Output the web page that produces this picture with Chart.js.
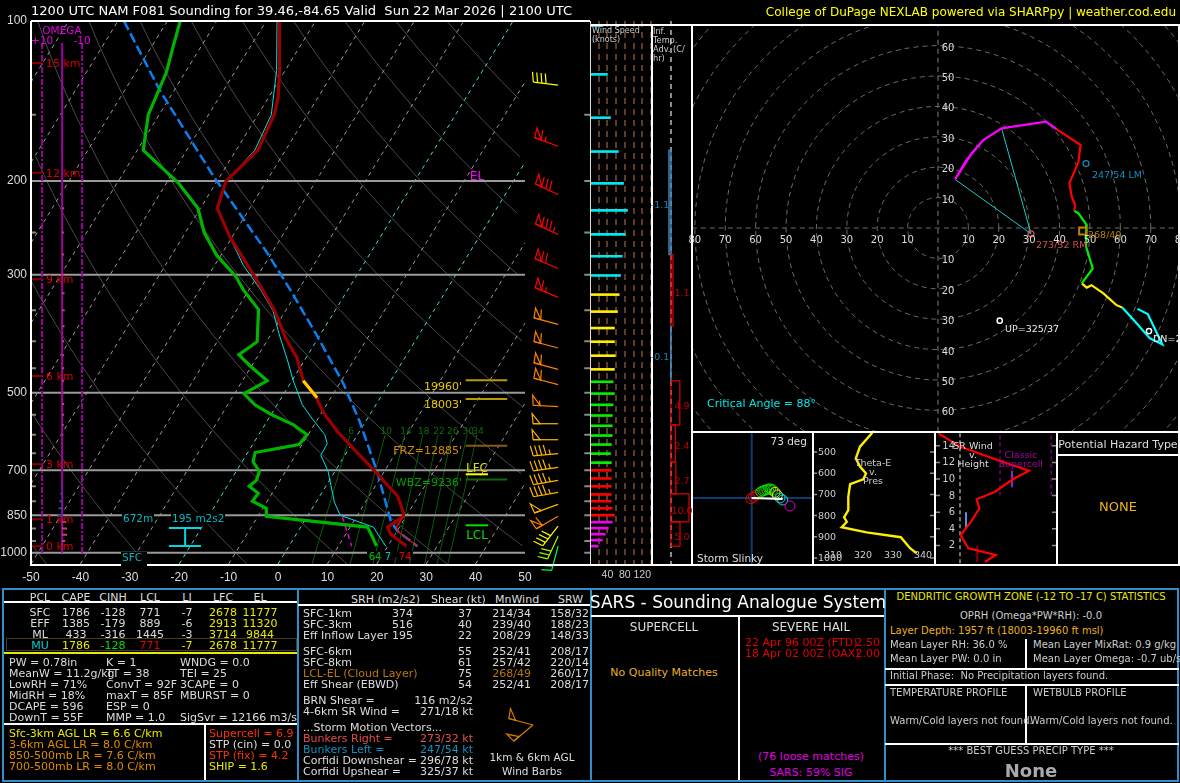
<!DOCTYPE html>
<html>
<head>
<meta charset="utf-8">
<title>NAM F081 Sounding</title>
<script src="https://cdn.jsdelivr.net/npm/chart.js@4"></script>
<style>
  html, body { margin: 0; background: #000; }
  #page { position: relative; width: 1180px; height: 783px; overflow: hidden; background: #000; font-family: "DejaVu Sans", sans-serif; }
  canvas { position: absolute; }
  .txt { position: absolute; white-space: pre; line-height: 1; }
  .rule { position: absolute; }
</style>
</head>
<body>
<div id="page"></div>
<script>
// profile traces, pressure in mb and temperature in C
const tempP = [100,125,139,150,175,200,225,255,300,320,352,394,430,475,511,520,550,594,703,783,840,854,895,923,972];
const tempC = [-67.4,-60.9,-58.1,-56.7,-55.6,-58.2,-56.6,-50.4,-41.0,-37.3,-32.0,-26.7,-21.8,-17.7,-12.8,-12.1,-9.1,-4.2,8.1,15.8,18.95,19.45,17.6,19.1,23.8];
const dgzP = [475,511];
const dgzC = [-17.7,-12.8];
const dewP = [100,112,125,150,175,202,225,250,276,302,320,349,401,424,443,475,502,527,548,574,600,626,648,674,703,731,750,773,800,825,854,895,931,972];
const dewC = [-87.4,-85.6,-83.8,-82.2,-78.8,-67.5,-60.5,-56.2,-50.8,-44.4,-41.2,-35.6,-31.9,-34,-30.7,-25,-28.1,-24.5,-20.3,-14.3,-10.2,-10.6,-18.5,-17.8,-15.3,-14.8,-15.5,-12.8,-13,-9.3,-8.3,13.5,15.6,17.7];
const wetP = [100,124,150,175,200,225,252,288,320,351,388,436,473,527,562,600,624,655,703,803,850,895,972];
const wetC = [-67.8,-61.7,-57.3,-56.2,-58.2,-56.4,-51.1,-44.2,-37.7,-32.5,-28.4,-23.3,-19.9,-14.9,-10.9,-6.6,-5,-4.9,-1.4,3.7,6.5,14.7,19.6];
const parcelP = [100,135,195,273,320,388,480,569,706,872,911,972];
const parcelC = [-98.8,-82.9,-61.6,-40.9,-31.7,-20.9,-9.3,-1,8.7,17.5,20.1,26];
const virtP = [972,911,895,854];
const virtC = [26,20.1,19.4,19.45];
const downP = [857,972];
const downC = [7.2,12.7];

// mixing ratio lines, temperature at 1050 mb and at 600 mb
const mixLabels = [6,10,14,18,22,26,30,34];
const mixBaseC = [6.9,14.6,19.2,23.6,26.6,29.7,32.2,34.4];
const mixTopC = [-1.5,5.6,9.6,13.2,16.3,19.1,22.2,24.2];

// axes
const pressureTicks = [100,200,300,500,700,850,1000];
const pressureLines = [200,300,500,700,850,1000];
const minorPressure = [150,250,350,400,450,550,600,650,750,800,900,950];
const tempTicks = [-50,-40,-30,-20,-10,0,10,20,30,40,50];
const heightLabels = ['15 km','12 km','9 km','6 km','3 km','1 km','0 km'];
const heightP = [120,193,306,465,682,865,972];

// omega
const omegaP = [125,150,175,225,250,275,300,325,350,375,400,425,450,475,500,525,550,575,600,625,650,675,725,750,775,800,825,850,875,900,925,950];
const omegaVal = [0.3,0.3,0.3,-1,-1,-1,-1,-1.2,-1.3,-1.2,-1,-1,-1,-1,-1,-1,-1,-0.8,-0.6,-0.4,-0.3,-0.2,0.3,0.5,1,1.4,1.8,2,-2,-2.5,-2.5,-1.5];

// wind barbs
const barbP = [132,172,212,252,292,331,372,412,452,483,531,572,613,651,691,731,770,811,854,891,931,972];
const barbDir = [277,290,295,295,293,293,285,285,285,285,273,270,270,265,262,260,260,250,240,218,205,195];
const barbSpd = [40,65,80,85,70,65,60,60,60,60,55,50,50,45,45,45,45,50,60,40,30,20];

// wind speed bars
const speedP = [102,126,152,176,202,227,252,277,301,327,352,378,401,426,452,477,502,527,552,577,602,626,651,677,700,725,750,777,800,825,850,876,899,923,947,972];
const speedKt = [30,40,47,65,77,86,81,74,70,67,63,56,56,58,56,53,56,53,51,51,51,49,47,49,49,49,49,49,49,51,56,51,42,35,28,19];
const speedTicks = [20,40,60,80,100,120,140];

// inferred temperature advection
const advBounds = [175,275,375,475,575,675,775,875,972];
const advVal = [-1.1,1.1,-0.1,4.9,2.4,2.7,10.0,5.0];

// hodograph, u and v in knots
const hodoMagU = [14.9,9.4,5.6,11.1,14.9,20.9,35.5,39.0];
const hodoMagV = [28.9,22.4,16.0,24.6,28.9,32.8,35.0,32.5];
const hodoRedU = [39.0,46.9,46.2,45.3,43.2,44.0,45.1,44.8];
const hodoRedV = [32.5,27.3,21.8,19.6,14.7,10.3,7.6,5.7];
const hodoGreenU = [44.8,46.2,48.9,48.7,50.9,47.3];
const hodoGreenV = [5.7,4.8,1.0,-6.1,-13.3,-18.2];
const hodoYellowU = [47.3,48.9,50.5,54.4,58.6,60.7];
const hodoYellowV = [-18.2,-19.6,-18.8,-21.5,-25.3,-26.2];
const hodoCyanU = [60.7,65.4,69.7,73.8,69.0,65.6];
const hodoCyanV = [-26.2,-31.4,-36.3,-38.3,-28.3,-26.6];
const rmUV = [30.6,-1.9];
const lmUV = [48.7,21.2];
const mwUV = [47.6,-1.0];
const upUV = [20.3,-30.5];
const dnUV = [69.4,-33.9];
const inflowBottomUV = [5.6,16.0];
const inflowTopUV = [20.9,32.8];
const hodoRings = [10,20,30,40,50,60,70,80,90,100,110,120];

// storm slinky
const slinkyX = [-0.7,1.7,4,6.7,9,11,13,15,17,19,21,23.3,25.7,28.3,31,38.3];
const slinkyY = [-0.7,0.7,2.7,4.3,6,7,7.7,8.3,9,9,8,5.7,3,0,-2,-8];
const tiltEnd = [31,-1];

// theta-e
const thetaP = [409,475,530,569,601,629,652,711,774,808,829,855,879,902,954,978];
const thetaK = [323.1,319,317.6,319,321,320.1,315.7,315.1,315.1,313.7,314.6,312.9,321.2,332.6,335.7,337.9];
const thetaPTicks = [500,600,700,800,900,1000];
const thetaKTicks = [310,320,330,340];

// storm relative wind v. height
const srHeight = [0,0.84,1.65,3.25,4.06,4.98,6.47,7.55,8.47,9.88,11,12.08,13.9,15.5];
const srWind = [30.6,37.3,20.2,15.4,18.75,22.3,27.1,25.4,36.9,47.3,58.1,41.4,15,1.5];
const srTicks = [2,4,6,8,10,12,14];

// parcel table
const pclNames = ['SFC','EFF','ML','MU'];
const pclCape = [1786,1385,433,1786];
const pclCinh = [-128,-179,-316,-128];
const pclLcl = [771,889,1445,771];
const pclLi = [-7,-6,-3,-7];
const pclLfc = [2678,2913,3714,2678];
const pclEl = [11777,11320,9844,11777];

// kinematic table
const kinNames = ['SFC-1km','SFC-3km','Eff Inflow Layer','SFC-6km','SFC-8km','LCL-EL (Cloud Layer)','Eff Shear (EBWD)'];
const kinSrh = ['374','516','195','','','',''];
const kinShear = [37,40,22,55,61,75,54];
const kinMean = ['214/34','239/40','208/29','252/41','257/42','268/49','252/41'];
const kinSrw = ['158/32','188/23','148/33','208/17','220/14','260/17','208/17'];

const page = document.getElementById('page');
const SKEW = 66.2;
const skewX = (t, p) => t + SKEW * Math.log10(1050 / p);

function label(x, y, str, color, size, align, extra) {
  const d = document.createElement('div');
  d.className = 'txt';
  d.textContent = str;
  const tx = align === 'c' ? '-50%' : align === 'r' ? '-100%' : '0';
  d.style.cssText = `left:${x}px;top:${y}px;color:${color};font-size:${size}px;transform:translate(${tx},-50%);` + (extra || '');
  page.appendChild(d);
  return d;
}
function rule(x, y, w, h, color) {
  const d = document.createElement('div');
  d.className = 'rule';
  d.style.cssText = `left:${x}px;top:${y}px;width:${w}px;height:${h}px;background:${color || '#fff'};`;
  page.appendChild(d);
}
function line(points, color, width, dash, extra) {
  return Object.assign({ data: points, showLine: true, borderColor: color, backgroundColor: color, borderWidth: width, borderDash: dash || [], pointRadius: 0, tension: 0, spanGaps: false }, extra);
}
function makeChart(left, top, w, h, type, datasets, scales, opts) {
  const c = document.createElement('canvas');
  c.width = w; c.height = h;
  c.style.left = left + 'px'; c.style.top = top + 'px';
  c.style.width = w + 'px'; c.style.height = h + 'px';
  page.appendChild(c);
  return new Chart(c.getContext('2d'), Object.assign({
    type: type,
    data: { datasets: datasets },
    plugins: (opts && opts.plugins) || [],
    options: Object.assign({
      responsive: false, animation: false, devicePixelRatio: 1, events: [],
      layout: { autoPadding: false, padding: (opts && opts.padding) || 0 },
      plugins: { legend: { display: false }, tooltip: { enabled: false } },
      scales: scales
    }, opts && opts.options)
  }));
}
const hidden = (o) => Object.assign({ display: false, grid: { display: false } }, o);

function drawBarb(ctx, x, y, dir, spd, color, len) {
  const rad = dir * Math.PI / 180;
  const ux = Math.sin(rad), uy = -Math.cos(rad);
  const px = -uy, py = ux;
  let tx = x + ux * len, ty = y + uy * len;
  ctx.save();
  ctx.strokeStyle = color;
  ctx.lineWidth = 1.2;
  ctx.beginPath(); ctx.moveTo(x, y); ctx.lineTo(tx, ty); ctx.stroke();
  let left = Math.round(spd / 5) * 5;
  let along = 0;
  while (left >= 50) {
    ctx.beginPath();
    ctx.moveTo(tx, ty);
    ctx.lineTo(tx + px * 10 + ux * 1, ty + py * 10 + uy * 1);
    ctx.lineTo(tx - ux * 7, ty - uy * 7);
    ctx.closePath(); ctx.stroke();
    along += 7; left -= 50;
  }
  while (left > 0) {
    const l = left >= 10 ? 10 : 5;
    const bx = tx - ux * along, by = ty - uy * along;
    ctx.beginPath();
    ctx.moveTo(bx, by);
    ctx.lineTo(bx + px * l + ux * l * 0.2, by + py * l + uy * l * 0.2);
    ctx.stroke();
    along += 4.3; left -= l;
  }
  ctx.restore();
}
function barbColor(spd) {
  if (spd >= 65) return '#ff0000';
  if (spd >= 55) return '#ff8000';
  if (spd >= 45) return '#ffb400';
  if (spd >= 35) return '#ffff00';
  if (spd >= 25) return '#aaff00';
  return '#00ff40';
}

// ---- skew-T ----
const skewSets = [];
// dry adiabats
for (let theta = -50; theta <= 190; theta += 20) {
  const pts = [];
  for (let p = 100; p <= 1050; p += 10) {
    const t = (theta + 273.15) * Math.pow(p / 1000, 0.286) - 273.15;
    const x = skewX(t, p);
    if (x >= -50 && x <= 50) pts.push({ x: x, y: p });
  }
  skewSets.push(line(pts, '#4a4a4a', 1));
}
// isotherms
for (let t = -120; t <= 50; t += 10) {
  const p0 = Math.min(1050, 1050 / Math.pow(10, (-50 - t) / SKEW));
  const p1 = Math.max(100, 1050 / Math.pow(10, (50 - t) / SKEW));
  if (p1 >= p0) continue;
  const special = t === 0 || t === -20;
  skewSets.push(line([{ x: skewX(t, p0), y: p0 }, { x: skewX(t, p1), y: p1 }], special ? '#45d8d8' : '#9a9a9a', 1, [4, 4]));
}
// mixing ratio
mixLabels.forEach((w, i) => {
  skewSets.push(line([{ x: skewX(mixBaseC[i], 1050), y: 1050 }, { x: skewX(mixTopC[i], 600), y: 600 }], '#0a5a0a', 1));
});
// pressure lines
pressureLines.forEach(p => skewSets.push(line([{ x: -50, y: p }, { x: 50, y: p }], '#9a9a9a', 2)));
const tickPts = [];
minorPressure.forEach(p => { tickPts.push({ x: -50, y: p }, { x: -49, y: p }, { x: NaN, y: NaN }); });
[...minorPressure, ...pressureLines].forEach(p => { tickPts.push({ x: 62, y: p }, { x: 64, y: p }, { x: NaN, y: NaN }); });
skewSets.push(line(tickPts, '#8a8a8a', 2));
// omega
const OM0 = -43.7;
skewSets.push(line([{ x: -47.75, y: 110 }, { x: -47.75, y: 1000 }], '#a000a0', 2, [6, 2, 2, 2]));
skewSets.push(line([{ x: -39.65, y: 110 }, { x: -39.65, y: 1000 }], '#a000a0', 2, [6, 2, 2, 2]));
skewSets.push(line([{ x: OM0, y: 110 }, { x: OM0, y: 1000 }], '#a000a0', 2));
const omegaSeg = (keep) => {
  const out = [];
  omegaP.forEach((p, i) => { if (keep(omegaVal[i])) out.push({ x: OM0, y: p }, { x: OM0 - omegaVal[i] * 0.405, y: p }, { x: NaN, y: NaN }); });
  return out;
};
skewSets.push(line(omegaSeg(v => v < 0), '#d04060', 2));
skewSets.push(line(omegaSeg(v => v > 0), '#0060b0', 2));
// height ticks
const hPts = [];
heightP.forEach(p => hPts.push({ x: -50, y: p }, { x: -47.7, y: p }, { x: NaN, y: NaN }));
skewSets.push(line(hPts, '#8a0000', 2));
// level markers
const mark = (p, x1, color) => skewSets.push(line([{ x: 38, y: p }, { x: x1, y: p }], color, 2));
mark(474, 46.4, '#b89a00');
mark(514, 46.4, '#b89a00');
mark(629, 46.4, '#8a5a10');
mark(728, 46.4, '#0a6a0a');
mark(712, 42.5, '#ffff00');
mark(888, 42.5, '#00e000');
// effective inflow bar
skewSets.push(line([{ x: -22.1, y: 898 }, { x: -15.6, y: 898 }, { x: NaN, y: NaN }, { x: -22.1, y: 971 }, { x: -15.6, y: 971 }, { x: NaN, y: NaN }, { x: -18.8, y: 898 }, { x: -18.8, y: 971 }], '#00d8e0', 2));
// traces
const trace = (ps, ts) => ps.map((p, i) => ({ x: skewX(ts[i], p), y: p }));
skewSets.push(line(trace(parcelP, parcelC), '#0a80f0', 2.5, [10, 4]));
skewSets.push(line(trace(downP, downC), '#e000e0', 1.5, [5, 4]));
skewSets.push(line(trace(dewP, dewC), '#00b400', 3.2));
skewSets.push(line(trace(wetP, wetC), '#00e0e0', 1));
skewSets.push(line(trace(tempP, tempC), '#9c0000', 3.2));
skewSets.push(line(trace(virtP, virtC), '#ff0000', 1.2));
skewSets.push(line(trace(dgzP, dgzC), '#ffcc00', 3.2));

const barbPlugin = {
  id: 'barbs',
  afterDatasetsDraw(chart) {
    const ctx = chart.ctx, xs = chart.scales.x, ys = chart.scales.y;
    barbP.forEach((p, i) => {
      drawBarb(ctx, xs.getPixelForValue(56.7), ys.getPixelForValue(p), barbDir[i], barbSpd[i], barbColor(barbSpd[i]), 25);
    });
  }
};
const skewChart = makeChart(0, 0, 600, 585, 'scatter', skewSets.reverse(), {
  x: {
    type: 'linear', min: -50, max: (590 - 278) / 4.94,
    afterBuildTicks: s => { s.ticks = tempTicks.map(v => ({ value: v })); },
    afterFit: s => { s.height = 21; },
    grid: { display: false, drawTicks: false }, border: { display: false },
    ticks: { color: '#ddd', font: { size: 12 }, padding: 6, autoSkip: false, maxRotation: 0, callback: v => String(v) }
  },
  y: {
    type: 'logarithmic', min: 100, max: 1050, reverse: true,
    afterBuildTicks: s => { s.ticks = pressureTicks.map(v => ({ value: v })); },
    afterFit: s => { s.width = 31; },
    grid: { display: false, drawTicks: false }, border: { display: false },
    ticks: { color: '#ddd', font: { size: 12 }, padding: 4, autoSkip: false, callback: v => String(v) }
  }
}, { padding: { top: 21, right: 10 }, plugins: [barbPlugin] });

// ---- wind speed ----
const speedColor = p => p <= 305 ? '#00e8f0' : p <= 455 ? '#ffee00' : p <= 680 ? '#00f000' : p <= 855 ? '#ff0000' : '#f000f0';
makeChart(590, 0, 80, 585, 'bar', [{
  data: speedP.map((p, i) => ({ x: speedKt[i], y: p })),
  backgroundColor: speedP.map(speedColor),
  barThickness: 2
}], {
  x: {
    type: 'linear', min: 0, max: 140,
    afterBuildTicks: s => { s.ticks = speedTicks.map(v => ({ value: v })); },
    afterFit: s => { s.height = 21; },
    grid: { color: '#5e3c28', lineWidth: 2, drawTicks: false },
    border: { display: false, dash: [6, 5] },
    ticks: { color: '#ccc', font: { size: 10.5 }, padding: 5, autoSkip: false, maxRotation: 0, callback: v => (v === 40 || v === 80 || v === 120) ? String(v) : '' }
  },
  y: hidden({ type: 'logarithmic', min: 100, max: 1050, reverse: true })
}, { padding: { top: 21, right: 19 }, options: { indexAxis: 'y' } });

// ---- temperature advection ----
const advSets = [line([{ x: 0, y: 100 }, { x: 0, y: 1050 }], '#8a8a8a', 2, [5, 4])];
advVal.forEach((v, i) => {
  advSets.push(line([{ x: 0, y: advBounds[i] }, { x: v, y: advBounds[i] }, { x: v, y: advBounds[i + 1] }, { x: 0, y: advBounds[i + 1] }, { x: 0, y: advBounds[i] }], v < 0 ? '#4682b4' : '#e00000', v < 0 ? 1.5 : 1.2));
});
const advChart = makeChart(652, 21, 39, 543, 'scatter', advSets.reverse(), {
  x: hidden({ type: 'linear', min: -19 / 1.8, max: 20 / 1.8 }),
  y: hidden({ type: 'logarithmic', min: 100, max: 1050, reverse: true })
});

// ---- hodograph ----
const uvPts = (us, vs) => us.map((u, i) => ({ x: u, y: vs[i] }));
const hodoSets = [];
hodoRings.forEach(r => {
  const pts = [];
  for (let a = 0; a <= 360; a += 4) pts.push({ x: r * Math.cos(a * Math.PI / 180), y: r * Math.sin(a * Math.PI / 180) });
  hodoSets.push(line(pts, '#6a6a6a', 1, [5, 4]));
});
hodoSets.push(line([{ x: -81, y: 0 }, { x: 79, y: 0 }], '#6a6a6a', 1.2, [5, 4]));
hodoSets.push(line([{ x: 0, y: -67 }, { x: 0, y: 67 }], '#6a6a6a', 1.2, [5, 4]));
const pointUV = (uv) => [{ x: uv[0], y: uv[1] }];
hodoSets.push(line([{ x: rmUV[0], y: rmUV[1] }, { x: inflowBottomUV[0], y: inflowBottomUV[1] }], '#20c8c8', 1));
hodoSets.push(line([{ x: rmUV[0], y: rmUV[1] }, { x: inflowTopUV[0], y: inflowTopUV[1] }], '#20c8c8', 1));
hodoSets.push(line(uvPts(hodoCyanU, hodoCyanV), '#00ffff', 2.2));
hodoSets.push(line(uvPts(hodoYellowU, hodoYellowV), '#ffee00', 2.2));
hodoSets.push(line(uvPts(hodoGreenU, hodoGreenV), '#00f000', 2.2));
hodoSets.push(line(uvPts(hodoRedU, hodoRedV), '#ff0000', 2.2));
hodoSets.push(line(uvPts(hodoMagU, hodoMagV), '#ff00ff', 2.2));
const marker = (uv, color, style, r, w) => ({ data: pointUV(uv), showLine: false, pointStyle: style, pointRadius: r, pointBorderColor: color, pointBackgroundColor: 'rgba(0,0,0,0)', pointBorderWidth: w });
hodoSets.push(marker(rmUV, '#d05050', 'circle', 3, 1.2));
hodoSets.push(marker(lmUV, '#1090c0', 'circle', 3, 1.2));
hodoSets.push(marker(mwUV, '#c08000', 'rect', 5, 2));
hodoSets.push(marker(upUV, '#ffffff', 'circle', 2.6, 1.5));
hodoSets.push(marker(dnUV, '#ffffff', 'circle', 2.6, 1.5));
const hodoChart = makeChart(692, 25, 486, 406, 'scatter', hodoSets.reverse(), {
  x: hidden({ type: 'linear', min: -246 / 3.04, max: 240 / 3.04 }),
  y: hidden({ type: 'linear', min: -203 / 3.04, max: 203 / 3.04 })
});

// ---- storm slinky ----
const slinkyColors = slinkyX.map((_, i) => i < 4 ? '#e00000' : i < 11 ? '#00e000' : i < 13 ? '#e8e000' : i < 15 ? '#00e0e0' : '#d000d0');
makeChart(693, 432, 119, 133, 'scatter', [
  line([{ x: 0, y: 0 }, { x: tiltEnd[0], y: tiltEnd[1] }], '#ffffff', 2),
  { data: uvPts(slinkyX, slinkyY), showLine: false, pointStyle: 'circle', pointRadius: 5, pointBorderWidth: 1, pointBorderColor: slinkyColors, pointBackgroundColor: 'rgba(0,0,0,0)' },
  line([{ x: -60, y: 0 }, { x: 61, y: 0 }], '#0a3c70', 2),
  line([{ x: 0, y: -67 }, { x: 0, y: 66 }], '#0a3c70', 2)
], {
  x: hidden({ type: 'linear', min: -58.7, max: 60.3 }),
  y: hidden({ type: 'linear', min: -67, max: 66 })
});

// ---- theta-e ----
const thetaTicks = [];
thetaPTicks.forEach(p => {
  thetaTicks.push({ x: 303.33, y: p }, { x: 304.7, y: p }, { x: NaN, y: NaN });
  thetaTicks.push({ x: 342.3, y: p }, { x: 343.67, y: p }, { x: NaN, y: NaN });
});
const thetaChart = makeChart(813, 432, 121, 133, 'scatter', [
  line(thetaP.map((p, i) => ({ x: thetaK[i], y: p })), '#ffee00', 2.4),
  line(thetaTicks, '#8a8a8a', 1.5)
], {
  x: hidden({ type: 'linear', min: 303.33, max: 343.67 }),
  y: hidden({ type: 'linear', min: 405.7, max: 1033, reverse: true })
});

// ---- SR wind ----
const srTickPts = [];
srTicks.forEach(h => { srTickPts.push({ x: 72.5, y: h }, { x: 75, y: h }, { x: NaN, y: NaN }, { x: 0, y: h }, { x: 2.5, y: h }, { x: NaN, y: NaN }); });
const srChart = makeChart(936, 432, 120, 133, 'scatter', [
  line(srHeight.map((h, i) => ({ x: srWind[i], y: h })), '#ff0000', 2.2),
  line([{ x: 25.8, y: 0 }, { x: 25.8, y: 2 }], '#8a0000', 2),
  line([{ x: 18.75, y: 4 }, { x: 18.75, y: 6 }], '#5a90e0', 2),
  line([{ x: 47.5, y: 9 }, { x: 47.5, y: 11 }], '#9020d0', 2),
  line([{ x: 40, y: 8 }, { x: 40, y: 16 }], '#700070', 1.5, [4, 3]),
  line([{ x: 72, y: 8 }, { x: 72, y: 16 }], '#700070', 1.5, [4, 3]),
  line([{ x: 15, y: -1 }, { x: 15, y: 16 }], '#9a9a9a', 1.5, [4, 3]),
  line(srTickPts, '#8a8a8a', 1.5)
], {
  x: hidden({ type: 'linear', min: 0, max: 75 }),
  y: hidden({ type: 'linear', min: -0.36, max: 15.66 })
});

// ---- inset barbs ----
makeChart(490, 700, 70, 50, 'scatter', [], {
  x: hidden({ type: 'linear', min: 0, max: 70 }),
  y: hidden({ type: 'linear', min: 0, max: 50 })
}, {
  plugins: [{
    id: 'inset',
    afterDatasetsDraw(chart) {
      drawBarb(chart.ctx, chart.scales.x.getPixelForValue(43), chart.scales.y.getPixelForValue(25), 285, 50, '#d87a00', 25);
      drawBarb(chart.ctx, chart.scales.x.getPixelForValue(43), chart.scales.y.getPixelForValue(25), 230, 50, '#d87a00', 25);
    }
  }]
});

// ---- frames ----
rule(31, 20, 559, 2);
rule(590, 24, 590, 2);
rule(30, 21, 2, 545);
rule(30, 564, 1150, 2);
rule(590, 21, 1, 544, '#e8d8d8');
rule(651, 24, 2, 541);
rule(691, 24, 2, 541);
rule(692, 431, 488, 2);
rule(812, 431, 2, 134);
rule(934, 431, 2, 134);
rule(1056, 431, 2, 134);
rule(1057, 454, 123, 1.5);
rule(1178, 24, 2, 541);
// gaps where labels sit
rule(367, 551, 46, 6, '#000');
rule(121, 552, 26, 15, '#000');

// ---- skew-T text ----
label(31, 11, '1200 UTC NAM F081 Sounding for 39.46,-84.65 Valid  Sun 22 Mar 2026 | 2100 UTC', '#fff', 13.07);
label(1176, 12, 'College of DuPage NEXLAB powered via SHARPpy | weather.cod.edu', '#ffff00', 12.03, 'r');
label(62, 30, 'OMEGA', '#e000e0', 10.5, 'c');
label(42, 40, '+10', '#e000e0', 10.5, 'c');
label(82, 40, '-10', '#e000e0', 10.5, 'c');
heightLabels.forEach((h, i) => {
  label(46, skewChart.scales.y.getPixelForValue(heightP[i]), h, '#d80000', 11);
});
mixLabels.forEach((w, i) => {
  label(skewChart.scales.x.getPixelForValue(skewX(mixTopC[i], 600)) + 1, 431, String(w), '#0f6a0f', 9, 'c');
});
label(477, 176, 'EL', '#ff00ff', 12, 'c');
label(462, 386, "19960'", '#e8c800', 11, 'r');
label(462, 404, "18003'", '#e8c800', 11, 'r');
label(462, 450, "FRZ=12885'", '#d08a00', 11, 'r');
label(462, 482, "WBZ=9236'", '#00a000', 11, 'r');
label(477, 468, 'LFC', '#e0e000', 12, 'c');
label(477, 535, 'LCL', '#00e000', 12, 'c');
label(122, 518, '672m', '#00b8c0', 10.5, 'l', 'background:#000;padding:0 1px;');
label(171, 518, '195 m2s2', '#00b8c0', 10.5, 'l', 'background:#000;padding:0 1px;');
label(122, 557, 'SFC', '#00b8c0', 10.5);
label(375, 557, '64', '#00c000', 10, 'c');
label(388, 557, '7', '#00c8c8', 10, 'c');
label(405, 557, '74', '#e00000', 10, 'c');

// ---- wind and advection text ----
label(592, 31, 'Wind Speed', '#ccc', 8);
label(592, 40, '(knots)', '#ccc', 8);
label(653, 31, 'Inf.', '#ccc', 8.2);
label(653, 40, 'Temp.', '#ccc', 8.2);
label(653, 49, 'Adv. (C/', '#ccc', 8.2);
label(653, 58, 'hr)', '#ccc', 8.2);
advVal.forEach((v, i) => {
  const mid = Math.sqrt(advBounds[i] * advBounds[i + 1]);
  const y = advChart.scales.y.getPixelForValue(mid) + 21 + 3;
  if (v < 0) label(660, y, String(v), '#2080a8', 9.5, 'c');
  else label(682, y, v.toFixed(1), '#c00000', 9.5, 'c');
});

// ---- hodograph text ----
const hx = hodoChart.scales.x, hy = hodoChart.scales.y;
[10,20,30,40,50,60,70,80].forEach(r => {
  label(692 + hx.getPixelForValue(-r), 240, String(r), '#ddd', 10, 'c');
  label(692 + hx.getPixelForValue(r), 240, String(r), '#ddd', 10, 'c');
});
[10,20,30,40,50,60].forEach(r => {
  label(948, 25 + hy.getPixelForValue(r) + 2, String(r), '#ddd', 10, 'c');
  label(948, 25 + hy.getPixelForValue(-r) + 2, String(r), '#ddd', 10, 'c');
});
label(1036, 245, '273/32 RM', '#d05050', 9.5);
label(1092, 175, '247/54 LM', '#1090c0', 9.5);
label(1088, 235, '268/49', '#b88000', 9.5);
label(1005, 329, 'UP=325/37', '#eee', 9.5);
label(1153, 339, 'DN=296/78', '#eee', 9.5);
label(707, 403, 'Critical Angle = 88\u00b0', '#00e8e8', 11);

// ---- lower panels text ----
label(807, 441, '73 deg', '#ddd', 10.5, 'r');
label(697, 558, 'Storm Slinky', '#ddd', 10.5);
thetaPTicks.forEach(p => label(818, 432 + thetaChart.scales.y.getPixelForValue(p), String(p), '#ccc', 9.5));
thetaKTicks.forEach(k => label(813 + thetaChart.scales.x.getPixelForValue(k), 555, String(k), '#ccc', 9.5, 'c'));
label(873, 463, 'Theta-E', '#ccc', 9.5, 'c');
label(873, 472, 'v.', '#ccc', 9.5, 'c');
label(873, 481, 'Pres', '#ccc', 9.5, 'c');
srTicks.forEach(h => label(955, 432 + srChart.scales.y.getPixelForValue(h), String(h), '#ccc', 10, 'r'));
label(973, 446, 'SR Wind', '#ddd', 9.5, 'c');
label(973, 455, 'v.', '#ddd', 9.5, 'c');
label(973, 464, 'Height', '#ddd', 9.5, 'c');
label(1021, 455, 'Classic', '#a000a0', 9.5, 'c');
label(1021, 464, 'Supercell', '#a000a0', 9.5, 'c');
label(1118, 444, 'Potential Hazard Type', '#ddd', 11, 'c');
label(1118, 506, 'NONE', '#f0b020', 13, 'c');

// ---- bottom frame ----
const BLUE = '#2e8ec8';
rule(2, 588, 1176, 2, BLUE);
rule(2, 780, 1176, 2, BLUE);
rule(2, 588, 2, 194, BLUE);
rule(1177, 588, 2, 194, BLUE);
rule(297, 588, 1.5, 194, BLUE);
rule(590, 588, 1.5, 194, BLUE);
rule(884, 588, 1.5, 194, BLUE);

// ---- parcel table ----
const colX = [40, 76, 113, 150, 187, 223, 260];
['PCL','CAPE','CINH','LCL','LI','LFC','EL'].forEach((h, i) => label(colX[i], 597, h, '#ddd', 11, 'c'));
rule(4, 601, 293, 1.5);
pclNames.forEach((n, r) => {
  const y = 612 + r * 11;
  const mu = r === 3;
  label(colX[0], y, n, mu ? '#00d0d0' : '#ddd', 11, 'c');
  label(colX[1], y, String(pclCape[r]), mu ? '#e8e800' : '#ddd', 11, 'c');
  label(colX[2], y, String(pclCinh[r]), mu ? '#00e000' : '#ddd', 11, 'c');
  label(colX[3], y, String(pclLcl[r]), mu ? '#e00000' : '#ddd', 11, 'c');
  label(colX[4], y, String(pclLi[r]), mu ? '#e8e800' : '#ddd', 11, 'c');
  label(colX[5], y, String(pclLfc[r]), '#e8e800', 11, 'c');
  label(colX[6], y, String(pclEl[r]), '#e8e800', 11, 'c');
});
const muBox = document.createElement('div');
muBox.className = 'rule';
muBox.style.cssText = 'left:6px;top:638px;width:291px;height:13px;border:1px solid #4a3a20;box-sizing:border-box;';
page.appendChild(muBox);
rule(4, 652, 293, 1.5, '#e8e800');

const statRows = [
  ['PW = 0.78in', 'K = 1', 'WNDG = 0.0'],
  ['MeanW = 11.2g/kg', 'TT = 38', 'TEI = 25'],
  ['LowRH = 71%', 'ConvT = 92F', '3CAPE = 0'],
  ['MidRH = 18%', 'maxT = 85F', 'MBURST = 0'],
  ['DCAPE = 596', 'ESP = 0', ''],
  ['DownT = 55F', 'MMP = 1.0', 'SigSvr = 12166 m3/s']
];
statRows.forEach((r, i) => {
  const y = 662 + i * 11;
  label(9, y, r[0], '#ddd', 11);
  label(106, y, r[1], '#ddd', 11);
  label(180, y, r[2], '#ddd', 11);
});
rule(4, 723, 293, 1.5);
rule(204, 723, 1.5, 57);
label(9, 733, 'Sfc-3km AGL LR = 6.6 C/km', '#e8e800', 11);
label(9, 744, '3-6km AGL LR = 8.0 C/km', '#e08a00', 11);
label(9, 755, '850-500mb LR = 7.6 C/km', '#e08a00', 11);
label(9, 766, '700-500mb LR = 8.0 C/km', '#e08a00', 11);
label(209, 733, 'Supercell = 6.9', '#ff3000', 11);
label(209, 744, 'STP (cin) = 0.0', '#ddd', 11);
label(209, 755, 'STP (fix) = 4.2', '#ff3000', 11);
label(209, 766, 'SHIP = 1.6', '#e8e800', 11);

// ---- kinematics table ----
label(351, 599, 'SRH (m2/s2)', '#ddd', 11);
label(431, 599, 'Shear (kt)', '#ddd', 11);
label(495, 599, 'MnWind', '#ddd', 11);
label(558, 599, 'SRW', '#ddd', 11);
rule(298, 604, 292, 1.5);
const kinY = [613, 624, 635, 651, 662, 673, 684];
kinNames.forEach((n, i) => {
  const cloud = i === 5;
  label(303, kinY[i], n, cloud ? '#b87a00' : '#ddd', 11);
  if (kinSrh[i]) label(413, kinY[i], kinSrh[i], '#ddd', 11, 'r');
  label(472, kinY[i], String(kinShear[i]), '#ddd', 11, 'r');
  label(531, kinY[i], kinMean[i], cloud ? '#b87a00' : '#ddd', 11, 'r');
  label(589, kinY[i], kinSrw[i], '#ddd', 11, 'r');
});
label(303, 700, 'BRN Shear =', '#ddd', 11);
label(473, 700, '116 m2/s2', '#ddd', 11, 'r');
label(303, 711, '4-6km SR Wind =', '#ddd', 11);
label(473, 711, '271/18 kt', '#ddd', 11, 'r');
label(303, 727, '...Storm Motion Vectors...', '#ddd', 11);
label(303, 738, 'Bunkers Right =', '#e05050', 11);
label(473, 738, '273/32 kt', '#e05050', 11, 'r');
label(303, 749, 'Bunkers Left =', '#1090c0', 11);
label(473, 749, '247/54 kt', '#1090c0', 11, 'r');
label(303, 760, 'Corfidi Downshear =', '#ddd', 11);
label(473, 760, '296/78 kt', '#ddd', 11, 'r');
label(303, 771, 'Corfidi Upshear =', '#ddd', 11);
label(473, 771, '325/37 kt', '#ddd', 11, 'r');
label(532, 757, '1km & 6km AGL', '#ddd', 10.5, 'c');
label(532, 771, 'Wind Barbs', '#ddd', 10.5, 'c');

// ---- SARS ----
label(738, 602, 'SARS - Sounding Analogue System', '#fff', 17, 'c');
rule(591, 615, 293, 1.5);
rule(738, 615, 1.5, 165);
label(664, 627, 'SUPERCELL', '#ddd', 12, 'c');
label(811, 627, 'SEVERE HAIL', '#ddd', 12, 'c');
label(664, 672, 'No Quality Matches', '#e8b020', 11, 'c');
label(745, 642, '22 Apr 96 00Z (FTD)', '#e00000', 11);
label(880, 642, '2.50', '#e00000', 11, 'r');
label(745, 653, '18 Apr 02 00Z (OAX)', '#e00000', 11);
label(880, 653, '2.00', '#e00000', 11, 'r');
label(811, 756, '(76 loose matches)', '#e000e0', 11, 'c');
label(811, 772, 'SARS: 59% SIG', '#e000e0', 11, 'c');

// ---- DGZ ----
label(1031, 597, 'DENDRITIC GROWTH ZONE (-12 TO -17 C) STATISTICS', '#e8e800', 10, 'c');
label(1031, 616, 'OPRH (Omega*PW*RH): -0.0', '#ccc', 10, 'c');
label(890, 631, 'Layer Depth: 1957 ft (18003-19960 ft msl)', '#e8b020', 10);
label(890, 645, 'Mean Layer RH: 36.0 %', '#ccc', 10);
label(890, 659, 'Mean Layer PW: 0.0 in', '#ccc', 10);
label(1033, 645, 'Mean Layer MixRat: 0.9 g/kg', '#ccc', 10);
label(1033, 659, 'Mean Layer Omega: -0.7 ub/s', '#ccc', 10);
rule(1025, 639, 1.5, 29);
rule(885, 668, 294, 1.5);
label(890, 676, 'Initial Phase:  No Precipitation layers found.', '#ccc', 10);
rule(885, 684, 294, 1.5);
label(890, 693, 'TEMPERATURE PROFILE', '#ccc', 10);
label(1033, 693, 'WETBULB PROFILE', '#ccc', 10);
rule(1025, 684, 1.5, 59);
label(890, 721, 'Warm/Cold layers not found.', '#ccc', 10);
label(1030, 721, 'Warm/Cold layers not found.', '#ccc', 10);
rule(885, 743, 294, 1.5);
label(1031, 751, '*** BEST GUESS PRECIP TYPE ***', '#ccc', 10, 'c');
label(1031, 771, 'None', '#aaa', 18, 'c', 'font-weight:bold;');
</script>
</body>
</html>
